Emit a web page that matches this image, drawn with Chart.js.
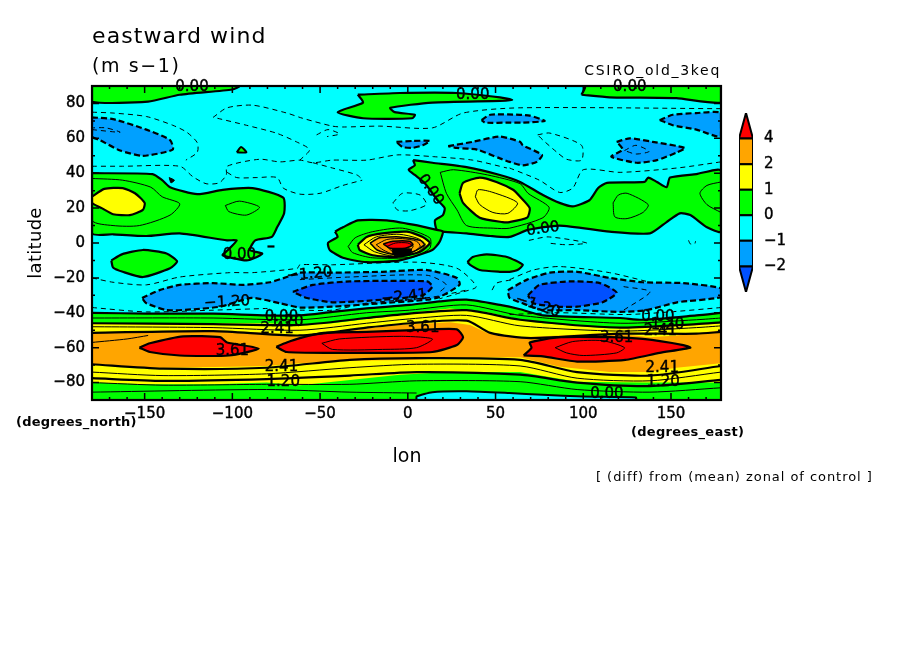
<!DOCTYPE html>
<html>
<head>
<meta charset="utf-8">
<title>eastward wind</title>
<script src="https://cdn.jsdelivr.net/npm/chart.js@4"></script>
<style>
  body { margin: 0; background: #fff; }
  #wrap { position: relative; width: 904px; height: 654px; }
  #mapChart { position: absolute; left: 0; top: 0; }
  #barChart { position: absolute; left: 725px; top: 100px; }
</style>
</head>
<body>
<div id="wrap">
  <canvas id="mapChart" width="904" height="654"></canvas>
  <canvas id="barChart" width="70" height="200"></canvas>
</div>
<script>
// axes
const lonTicks = [-150, -100, -50, 0, 50, 100, 150];
const latTicks = [-80, -60, -40, -20, 0, 20, 40, 60, 80];
const lonMinor = [-170, -160, -140, -130, -120, -110, -90, -80, -70, -60, -40, -30, -20, -10, 10, 20, 30, 40, 60, 70, 80, 90, 110, 120, 130, 140, 160, 170];
const latMinor = [-70, -50, -30, -10, 10, 30, 50, 70];

// colour bar
const barLevels = ["-2", "-1", "0", "1", "2", "4"];
const barColors = ["#0050ff", "#00a0ff", "#00ffff", "#00ff00", "#ffff00", "#ffa500", "#ff0000"];

// field background and the regions, all [lon, lat]
const wholeField = [[-180, 90], [178.5, 90], [178.5, -90], [-180, -90]];

const greenNorthWest = [[-180, 90], [-96, 90], [-100, 88], [-130, 85], [-148, 81], [-180, 81]];
const greenNorthMid = [[-28.5, 85], [-4.5, 86], [28, 86], [52.5, 83.5], [59.5, 82], [52.5, 81.5], [14, 80.5], [-10, 77.5], [-7.5, 75], [4, 73.5], [2.5, 71.5], [-25.5, 71.5], [-40, 75], [-25.5, 80.5]];
const greenNorthEast = [[99, 85], [101, 89], [101, 90], [178.5, 90], [178.5, 80.5], [153, 83], [115, 83.5]];
const greenPacific = [[-180, 40], [-145.5, 39.5], [-140, 36], [-135.5, 32], [-120, 28], [-105.5, 30.5], [-88.5, 31.5], [-71, 26], [-70.5, 17], [-74.5, 9], [-77.5, 3.5], [-87, 1.5], [-90, -4], [-83, -6], [-86, -8], [-92, -10], [-105.5, -7], [-102.5, -4], [-97.5, 1.5], [-103, 1.5], [-130, 5.5], [-149, 4], [-168, 5], [-180, 5.5]];
const greenAsia = [[3, 47.5], [14, 46], [33.5, 43.5], [52.5, 39], [64, 35], [77, 27.5], [86.5, 23], [94, 21], [103.5, 24.5], [108.5, 31.5], [113.5, 34.5], [135, 35], [137, 37.5], [142, 35], [147.5, 32], [149.5, 37.5], [164.5, 39.5], [178.5, 41.5], [178.5, 6.5], [170.5, 9], [161, 16], [155, 17], [147.5, 12], [138, 5.5], [115, 6.5], [86.5, 10], [68.5, 7.5], [58, 3.5], [47, 4], [33.5, 5.5], [20, 6.5], [16.5, 7.5], [15.5, 13], [20, 16], [21, 20], [17, 24.5], [9.5, 34.5], [4, 39], [0.5, 42], [4, 44.5]];
const greenSmallWest = [[-169, -10], [-163, -6.5], [-151, -4], [-137.5, -6], [-131.5, -10.5], [-135.5, -14.5], [-151, -19.5], [-162.5, -16.5], [-168, -14]];
const greenAfrica = [[-41.5, 6.5], [-37, 9], [-28.5, 13], [-12, 13], [3, 10.5], [16.5, 7.5], [20, 6.5], [18, 0.5], [14, -4], [-4.5, -10], [-23.5, -11], [-37, -8.5], [-44.5, -4], [-45.5, 0], [-40, 3.5]];
const greenSmallEast = [[34, -11], [37, -8], [45, -6.5], [56.5, -8], [65.5, -12.5], [62.5, -15.5], [58, -16.5], [52.5, -16.5], [41, -15.5], [35.5, -12.5]];
const greenSpeck = [[-97.5, 52], [-95, 55], [-92, 52]];
const blackSpeck = [[-136, 37.5], [-133, 36], [-135, 34.5]];

const yellowWest = [[-180, 26.5], [-173, 31], [-162.5, 31.5], [-155.5, 28.5], [-150, 23], [-151, 19], [-158.5, 16], [-168, 16.5], [-174.5, 20], [-180, 23]];
const yellowMid = [[29.5, 28.5], [31.5, 34.5], [41, 37.5], [50.5, 35], [60, 30.5], [64, 26.5], [69.5, 20], [68, 14.5], [58, 12], [54, 12], [41, 14.5], [31.5, 23]];
const yellowAfrica = [[-28.5, -1], [-23.5, 3.5], [-14.5, 5.5], [-0.5, 6.5], [8.5, 3.5], [12.5, 0], [7, -5], [-6.5, -8], [-20, -7], [-27.5, -4]];
const orangeAfrica = [[-21.5, 0], [-16, 3], [-4.5, 3.5], [7, 1.5], [9.5, -1], [3, -5], [-8.5, -6.5], [-17.5, -4]];
const redAfrica = [[-14, -0.5], [-8.5, 1], [1, 1], [3, -1], [-1.5, -3], [-10, -3]];
const coreAfrica = [[-9, -3.5], [2, -3.5], [1, -7], [-8, -7]];

const blueNorthWest = [[-180, 72], [-168, 71], [-149, 65], [-135.5, 59], [-134, 53.5], [-151, 50], [-164, 53], [-175.5, 59], [-180, 61]];
const blueNorthEast = [[143.5, 70.5], [151, 73.5], [164.5, 74.5], [178.5, 74.5], [178.5, 61], [164.5, 65], [151, 67.5]];
const blueEurope = [[-6.5, 58], [3, 58.5], [12.5, 58.5], [8.5, 56], [2.5, 54.5], [-3, 55]];
const blueRussia = [[23, 55.5], [37, 58], [52.5, 61], [64, 58], [65.5, 56], [76.5, 50.5], [73.5, 46.5], [65.5, 44.5], [58, 46.5], [52.5, 48.5], [39.5, 53.5], [28, 54.5]];
const blueArctic = [[42, 70.5], [47, 73.5], [64, 73.5], [69.5, 73], [78, 70], [65.5, 69], [58, 69], [44, 69]];
const blueJapan = [[119, 58], [126.5, 60], [139.5, 58], [158, 54.5], [153.5, 52], [142, 47.5], [130.5, 46], [116, 49.5], [122.5, 53.5]];
const blueSouthWest = [[-151.5, -31.5], [-141.5, -27], [-130, -24], [-111, -23], [-94, -24], [-78.5, -22.5], [-69, -19.5], [-61.5, -17], [-43, -17], [-14.5, -16.5], [11, -15.5], [28, -20], [29.5, -24], [18, -31], [11, -32.5], [-14.5, -34.5], [-43, -36.5], [-61.5, -37], [-73, -34.5], [-89, -31.5], [-107, -36.5], [-122.5, -38], [-137.5, -38.5], [-149, -34.5]];
const blueSouthEast = [[57, -27], [68, -21], [81, -17], [96.5, -16.5], [115, -20], [134, -22.5], [157, -23], [178.5, -26], [178.5, -31], [153.5, -34], [136, -38.5], [121, -39.5], [96.5, -38.5], [77, -38.5], [68, -35.5], [58, -31.5]];
const deepSouthWest = [[-65.5, -28], [-54, -24], [-33, -22], [11, -22], [14, -25], [8.5, -30], [-14.5, -32.5], [-43, -34], [-57.5, -31.5]];
const deepSouthEast = [[68.5, -30], [75, -24], [92.5, -22], [109.5, -23], [119, -28.5], [111, -34], [96.5, -36.5], [85, -36.5], [71.5, -34.5]];

// southern jet, edges of the colour bands from west to east
const southZeroTop = [[-180, -40], [-149, -40.5], [-111, -40.5], [-80.5, -41.5], [-61.5, -41.5], [-43, -39.5], [-23.5, -37.5], [1, -35.5], [18, -33.5], [33.5, -32.5], [52.5, -35.5], [64, -38], [77, -41.5], [121, -43], [134, -44], [164.5, -41.5], [178.5, -40]];
const southOneTop = [[-180, -46], [-149, -46], [-111, -46], [-80.5, -46], [-61.5, -47], [-43, -46], [-14.5, -42.5], [5, -39.5], [24, -37.5], [45, -39.5], [64, -44], [77, -46], [115, -49], [138, -48], [178.5, -46]];
const southTwoTop = [[-180, -51.5], [-149, -50.5], [-111, -50], [-80.5, -51.5], [-61.5, -53], [-33, -50], [-4.5, -47], [24, -45.5], [35.5, -47], [45, -51.5], [64, -54], [86.5, -53], [115, -51.5], [138, -54], [153, -53], [178.5, -50]];
const southTwoBottom = [[-180, -69.5], [-160, -71], [-139.5, -71.5], [-101.5, -71], [-80.5, -70.5], [-61.5, -69], [-33, -67.5], [5, -67], [24, -65.5], [64, -65.5], [86.5, -71], [115, -74], [138, -74], [153, -71.5], [178.5, -69]];
const southOneBottom = [[-180, -80], [-149, -81], [-111, -81], [-80.5, -80], [-61.5, -81.5], [-33, -78.5], [-4.5, -75.5], [24, -74], [64, -74], [96.5, -79.5], [134, -80], [153, -80], [178.5, -80]];
const southFloor = [[-180, -90], [178.5, -90]];
const cyanAntarctic = [[5, -90], [5, -88], [14, -85.5], [33.5, -85], [58, -86], [77, -87], [100, -88], [130, -88.5], [130, -90]];

const redJetWest = [[-153, -60], [-147, -57.5], [-128, -53.5], [-107, -54], [-103, -57], [-85, -60.5], [-102, -64.5], [-130, -64.5], [-147, -62.5]];
const redJetMid = [[-75, -59.5], [-69, -57], [-61.5, -54.5], [-48, -51.5], [-23.5, -51], [14, -49.5], [28, -49.5], [31.5, -54], [28, -58.5], [14, -62.5], [-14.5, -63], [-43, -63], [-69, -62.5]];
const redJetEast = [[66, -64.5], [70.5, -60], [69.5, -57], [86.5, -54], [115, -54], [134, -55], [157, -58.5], [161, -60], [143.5, -63], [124, -67], [96.5, -68], [77, -65]];

// solid contours
const thinPacificOuter = [[-180, 37], [-162.5, 36], [-146.5, 32], [-140, 26.5], [-130, 22.5], [-135.5, 16], [-153, 10], [-168, 10], [-180, 13]];
const thinPacificSmall = [[-104, 21.5], [-96, 24], [-84.5, 20.5], [-92, 16], [-102, 18]];
const thinAsiaOuter = [[18.5, 40.5], [26, 42], [45.5, 39], [64, 34], [68.5, 28.5], [80.5, 20.5], [77, 14.5], [58, 8.5], [49, 8.5], [33.5, 10], [28, 19], [22, 28.5]];
const thinAsiaInner = [[38.5, 26.5], [40, 30.5], [48.5, 29], [62.5, 23], [57, 17], [48.5, 17.5], [41, 22]];
const thinAsiaEast = [[117, 23], [120, 27.5], [125, 28.5], [137, 22], [134, 17.5], [125, 14], [118, 15]];
const thinDateLine = [[178.5, 35], [170.5, 33], [166.5, 28.5], [170.5, 22], [178.5, 17.5]];
const thinAfricaOuter = [[-34, -2], [-30, 3], [-20, 6.5], [-3, 8.5], [12.5, 3], [12.5, -3], [3, -8], [-20, -8.5], [-31.5, -5.5]];
const thinAfricaA = [[-25, -1], [-18, 3.5], [-5, 5], [6, 2.5], [10, -1], [4, -6], [-8, -7.5], [-19, -5]];
const thinAfricaB = [[-18, -1], [-12, 2], [-3, 2.5], [5, 1], [7, -2], [1, -6], [-8, -6.5], [-14, -4]];
const thinAfricaC = [[-12, -2], [-7, 0], [0, 0], [3, -2], [0, -5], [-7, -6]];
const thinJetMid = [[-49, -57.5], [-39, -55], [-4.5, -53.5], [14, -55], [5, -60], [-14.5, -61], [-43, -61]];
const thinJetEast = [[84, -60], [94, -56.5], [111, -56], [123.5, -60], [119, -63], [100, -64.5], [90.5, -63]];

const northPointSix = [[-180, -43], [-111, -43], [-61.5, -44], [-23.5, -40], [1, -38.5], [33.5, -35.5], [64, -41.5], [121, -46], [164.5, -44], [178.5, -43]];
const northOneTwo = [[-180, -46], [-111, -46.5], [-61.5, -47], [-23.5, -43], [1, -40.5], [33.5, -38.5], [64, -44], [121, -48.5], [164.5, -46.5], [178.5, -45.5]];
const northOneEight = [[-180, -48], [-111, -48.5], [-61.5, -50], [-23.5, -46], [1, -43.5], [33.5, -41.5], [64, -47.5], [121, -50.5], [164.5, -48.5], [178.5, -47.5]];
const northTwoFour = [[-180, -51.5], [-111, -50.5], [-61.5, -53], [-23.5, -48.5], [1, -46], [33.5, -44.5], [47, -51.5], [70, -54.5], [121, -52], [164.5, -52], [178.5, -51]];
const northThree = [[-180, -57], [-160, -55], [-148, -53]];
const southTwoFour = [[-180, -69.5], [-139.5, -72], [-80.5, -71.5], [-33, -67], [5, -66], [64, -67], [96.5, -74], [138, -76], [178.5, -70.5]];
const southOneEight = [[-180, -74], [-139.5, -76], [-80.5, -75], [-33, -71.5], [5, -69.5], [64, -70.5], [96.5, -77.5], [138, -79], [178.5, -74]];
const southOneTwo = [[-180, -77.5], [-139.5, -79], [-80.5, -78], [-33, -76], [5, -74], [64, -75.5], [96.5, -80], [138, -82], [178.5, -78.5]];
const southPointSix = [[-180, -80], [-139.5, -81.5], [-80.5, -81], [-33, -81], [5, -79], [64, -79.5], [96.5, -84], [138, -85.5], [178.5, -83]];
const southZeroLow = [[-180, -85.5], [-80.5, -84], [-33, -85.5], [5, -86]];
const shortBar = [[-80, -2], [-76, -2]];

// dashed contours
const dashA = [[-180, 75], [-168, 74.5], [-149, 72.5], [-134, 67.5], [-126, 63.5], [-120, 57.5], [-120, 52], [-126.5, 47.5]];
const dashB = [[-111, 72], [-103, 77.5], [-88.5, 79], [-69, 74.5], [-60, 71.5], [-43, 67], [-37, 66.5], [-16, 67], [14, 66], [31.5, 74.5], [64, 77.5], [178.5, 77]];
const dashC = [[-108.5, 71.5], [-92, 67.5], [-75, 63], [-63.5, 58], [-56, 53.5], [-61.5, 47.5]];
const dashD = [[-180, 44], [-162.5, 44], [-130, 44], [-122.5, 38], [-115, 34], [-107.5, 34.5], [-103.5, 39], [-103, 44], [-84.5, 48], [-73, 46.5], [-61.5, 47.5], [-54, 46], [-43, 47.5], [-23.5, 47.5], [-6, 50.5], [14.5, 49.5], [37, 47.5], [56.5, 43]];
const dashE = [[-103, 40.5], [-97.5, 37.5], [-86, 37.5], [-74.5, 37.5], [-71, 31.5], [-61.5, 28], [-50, 28.5], [-37, 33], [-26, 36]];
const dashF = [[-8.5, 23], [-3, 28.5], [7, 27.5], [10.5, 22], [1, 18.5], [-6, 19], [-8.5, 23]];
const dashG = [[-52, 62], [-45.5, 65], [-39, 62.5], [-46, 61]];
const dashH = [[-54, 46], [-43, 43], [-29, 39], [-25.5, 36]];
const dashI = [[74, 62], [81, 63], [99, 56], [99, 47.5], [90.5, 48], [85, 52], [77, 59], [74, 62]];
const dashJ = [[178.5, 46.5], [153.5, 43], [121, 40.5], [100, 42], [94, 31.5], [86.5, 29], [75, 36], [58, 43]];
const dashK = [[69, 1.5], [80, 3.5], [102, 0], [90.5, -1], [79.5, 0]];
const dashL = [[-180, 65], [-164, 63.5], [-172, 66], [-180, 66]];
const dashM = [[123.5, 53], [130, 56], [137.5, 52.5], [130, 51], [123.5, 53]];
const dashN = [[-180, -20], [-168, -22.5], [-149, -24], [-130, -19.5], [-101.5, -17], [-88.5, -17], [-63, -14.5], [-61.5, -12.5], [-43, -12.5], [5, -11], [28, -14.5], [39, -25], [31.5, -28], [18, -32]];
const dashO = [[-61.5, -21], [-33, -19.5], [11, -18.5], [22, -24], [17, -29]];
const dashP = [[-61.5, -38.5], [-43, -38.5], [-23.5, -34.5], [14, -31], [33.5, -27]];
const dashQ = [[-180, -37], [-149, -39.5], [-111, -38.5], [-80, -37.5]];
const dashR = [[58, -21], [71.5, -15.5], [86.5, -13.5], [115, -17], [138, -22.5]];
const dashS = [[48, -27], [50.5, -23], [60, -21]];
const dashT = [[58, -41], [86.5, -40], [124.5, -41], [149.5, -39.5], [178.5, -37]];
const dashU = [[123, -25], [138, -28], [123, -38.5]];
const dashV = [[160, 1.5], [161, -0.5], [163.5, -0.5], [164, 1]];

// contour labels
const labelTexts = ["0.00", "0.00", "0.00", "0.00", "0.00", "0.00", "0.00", "0.00", "0.00", "\u22121.20", "\u22121.20", "\u22121.20", "\u22122.41", "3.61", "3.61", "3.61", "2.41", "2.41", "2.41", "2.41", "1.20", "1.20", "1.20", "1.20"];
const labelLons = [-123, 37, 126.5, 113.5, -96, 77, 13, -72, 142.5, -56, -103, 74, -2, -100, 8.5, 119, -74.5, 144, -72, 145, -69, 148, -71, 145.5];
const labelLats = [89.5, 85, 89.5, -86.5, -7, 8, 30.5, -42.5, -42.5, -18, -34, -36, -31, -62, -49, -54.5, -49.5, -50.5, -71, -71.5, -45.5, -47, -80, -79.5];
const labelTilts = [0, 0, 0, 0, 0, -8, 55, 0, 0, -5, -3, 18, -6, 0, 0, 0, 0, 0, 0, 0, 0, 0, 0, 0];

const FONT = "'DejaVu Sans'";
const CYAN = barColors[2], GREEN = barColors[3], YELLOW = barColors[4], ORANGE = barColors[5], RED = barColors[6];
const BLUE = barColors[1], DEEP = barColors[0];

function toPoints(pairs) {
  return pairs.map(p => ({ x: p[0], y: p[1] }));
}

function closeRing(pairs) {
  return pairs.concat([pairs[0]]);
}

// closed filled region, outlined unless width is 0
function region(pairs, color, width, dash) {
  return {
    data: toPoints(closeRing(pairs)),
    showLine: true,
    fill: "shape",
    backgroundColor: color,
    borderColor: "#000",
    borderWidth: width,
    borderDash: dash || [],
    pointRadius: 0,
    tension: 0.2,
  };
}

function band(top, bottom, color) {
  const ds = region(top.concat(bottom.slice().reverse()), color, 0);
  ds.tension = 0;
  return ds;
}

function line(pairs, width, dash) {
  return {
    data: toPoints(pairs),
    showLine: true,
    fill: false,
    borderColor: "#000",
    borderWidth: width,
    borderDash: dash || [],
    pointRadius: 0,
    tension: 0.25,
  };
}

function ring(pairs, width) {
  return line(closeRing(pairs), width);
}

const THICK_DASH = [6, 3];
const THIN_DASH = [5, 4];

// listed bottom layer first
const layers = [
  region(wholeField, CYAN, 0),
  band(southZeroTop, southFloor, GREEN),
  band(southOneTop, southOneBottom, YELLOW),
  band(southTwoTop, southTwoBottom, ORANGE),
  region(cyanAntarctic, CYAN, 2),
  region(greenNorthWest, GREEN, 2.2),
  region(greenNorthMid, GREEN, 2.2),
  region(greenNorthEast, GREEN, 2.2),
  region(greenPacific, GREEN, 2.2),
  region(greenAsia, GREEN, 2.2),
  region(greenSmallWest, GREEN, 2.2),
  region(greenAfrica, GREEN, 2.2),
  region(greenSmallEast, GREEN, 2.2),
  region(greenSpeck, GREEN, 2),
  region(blackSpeck, "#000", 1),
  region(yellowWest, YELLOW, 2.2),
  region(yellowMid, YELLOW, 2.2),
  region(yellowAfrica, YELLOW, 2.2),
  region(orangeAfrica, ORANGE, 1.5),
  region(redAfrica, RED, 1.5),
  region(coreAfrica, "#000", 1),
  region(blueNorthWest, BLUE, 2.2, THICK_DASH),
  region(blueNorthEast, BLUE, 2.2, THICK_DASH),
  region(blueEurope, BLUE, 2.2, THICK_DASH),
  region(blueRussia, BLUE, 2.2, THICK_DASH),
  region(blueArctic, BLUE, 2.2, THICK_DASH),
  region(blueJapan, BLUE, 2.2, THICK_DASH),
  region(blueSouthWest, BLUE, 2.2, THICK_DASH),
  region(blueSouthEast, BLUE, 2.2, THICK_DASH),
  region(deepSouthWest, DEEP, 2.2, THICK_DASH),
  region(deepSouthEast, DEEP, 2.2, THICK_DASH),
  region(redJetWest, RED, 2.2),
  region(redJetMid, RED, 2.2),
  region(redJetEast, RED, 2.2),
  ring(thinPacificOuter, 1),
  ring(thinPacificSmall, 1),
  ring(thinAsiaOuter, 1),
  ring(thinAsiaInner, 1),
  ring(thinAsiaEast, 1),
  line(thinDateLine, 1),
  ring(thinAfricaOuter, 1),
  ring(thinAfricaA, 1),
  ring(thinAfricaB, 1),
  ring(thinAfricaC, 1),
  ring(thinJetMid, 1),
  ring(thinJetEast, 1),
  line(southZeroTop, 2.2),
  line(northPointSix, 1),
  line(northOneTwo, 2.2),
  line(northOneEight, 1),
  line(northTwoFour, 2.2),
  line(northThree, 1),
  line(southTwoFour, 2.2),
  line(southOneEight, 1),
  line(southOneTwo, 2.2),
  line(southPointSix, 1),
  line(southZeroLow, 1),
  line(shortBar, 2.2),
];
[dashA, dashB, dashC, dashD, dashE, dashF, dashG, dashH, dashI, dashJ, dashK, dashL, dashM, dashN, dashO, dashP, dashQ, dashR, dashS, dashT, dashU, dashV].forEach(d => {
  layers.push(line(d, 1, THIN_DASH));
});

// Chart.js paints the first dataset last, so flip the list
const mapDatasets = layers.slice().reverse();

function signedLabel(value) {
  return String(value).replace("-", "\u2212");
}

function putText(ctx, text, x, y, size, opts) {
  const o = opts || {};
  ctx.save();
  ctx.translate(x, y);
  if (o.angle) ctx.rotate(o.angle * Math.PI / 180);
  ctx.font = (o.weight || "normal") + " " + size + "px " + FONT;
  ctx.textAlign = o.align || "left";
  ctx.textBaseline = "middle";
  ctx.letterSpacing = (o.spacing || 0) + "px";
  ctx.fillStyle = "#000";
  ctx.fillText(text, 0, 0);
  if (o.heavy) {
    ctx.strokeStyle = "#000";
    ctx.lineWidth = o.heavy;
    ctx.strokeText(text, 0, 0);
  }
  ctx.restore();
}

const mapFrame = {
  id: "mapFrame",
  afterDraw(chart) {
    const ctx = chart.ctx;
    const { left, right, top, bottom } = chart.chartArea;
    const xs = chart.scales.x;
    const ys = chart.scales.y;

    // contour labels
    labelTexts.forEach((t, i) => {
      putText(ctx, t, xs.getPixelForValue(labelLons[i]), ys.getPixelForValue(labelLats[i]), 15, { align: "center", angle: labelTilts[i], heavy: 0.4 });
    });

    // inward ticks on all four sides
    ctx.strokeStyle = "#000";
    ctx.lineWidth = 1.5;
    ctx.beginPath();
    function lonMark(v, len) {
      const x = xs.getPixelForValue(v);
      ctx.moveTo(x, bottom); ctx.lineTo(x, bottom - len);
      ctx.moveTo(x, top); ctx.lineTo(x, top + len);
    }
    function latMark(v, len) {
      const y = ys.getPixelForValue(v);
      ctx.moveTo(left, y); ctx.lineTo(left + len, y);
      ctx.moveTo(right, y); ctx.lineTo(right - len, y);
    }
    lonTicks.forEach(v => lonMark(v, 7));
    lonMinor.forEach(v => lonMark(v, 3));
    latTicks.forEach(v => latMark(v, 7));
    latMinor.forEach(v => latMark(v, 3));
    ctx.stroke();

    ctx.lineWidth = 2.2;
    ctx.strokeRect(left, top, right - left, bottom - top);

    putText(ctx, "eastward wind", 92, 37, 22, { spacing: 1.1 });
    putText(ctx, "(m s\u22121)", 92, 67, 19, { spacing: 1.6 });
    putText(ctx, "CSIRO_old_3keq", 721, 71, 14, { align: "right", spacing: 1.7 });
    putText(ctx, "latitude", 36, 243, 18, { align: "center", angle: -90, spacing: 0.3 });
    putText(ctx, "lon", 407, 457, 19, { align: "center" });
    putText(ctx, "(degrees_north)", 16, 423, 13, { weight: "bold", spacing: 0.2 });
    putText(ctx, "(degrees_east)", 631, 433, 13, { weight: "bold", spacing: 0.3 });
    putText(ctx, "[ (diff) from (mean) zonal of control ]", 596, 478, 13, { spacing: 0.95 });
  },
};

const tickFont = { family: FONT, size: 15 };

new Chart(document.getElementById("mapChart"), {
  type: "scatter",
  data: { datasets: mapDatasets },
  plugins: [mapFrame],
  options: {
    responsive: false,
    animation: false,
    layout: { padding: { left: 0, top: 86, right: 183, bottom: 0 } },
    plugins: { legend: { display: false }, tooltip: { enabled: false } },
    events: [],
    scales: {
      x: {
        type: "linear",
        min: -180,
        max: 178.5,
        afterFit: s => { s.height = 254; },
        afterBuildTicks: s => { s.ticks = lonTicks.map(v => ({ value: v })); },
        grid: { display: false, drawTicks: false },
        border: { display: false },
        ticks: { color: "#000", font: tickFont, padding: 5, maxRotation: 0, autoSkip: false, textStrokeColor: "#000", textStrokeWidth: 0.4, callback: signedLabel },
      },
      y: {
        type: "linear",
        min: -90,
        max: 90,
        afterFit: s => { s.width = 92; },
        afterBuildTicks: s => { s.ticks = latTicks.map(v => ({ value: v })); },
        grid: { display: false, drawTicks: false },
        border: { display: false },
        ticks: { color: "#000", font: tickFont, padding: 7, autoSkip: false, textStrokeColor: "#000", textStrokeWidth: 0.4, callback: signedLabel },
      },
    },
  },
});

// colour bar: boxes sit between level positions 0..5, the end triangles beyond them
function barBox(i) {
  return [[0, i - 1], [1, i - 1], [1, i], [0, i]];
}
function barTip(i) {
  return i === 0 ? [[0, 0], [1, 0], [0.5, -1]] : [[0, 5], [1, 5], [0.5, 6]];
}

const barDatasets = barColors.map((c, i) => {
  const shape = (i === 0 || i === barColors.length - 1) ? barTip(i) : barBox(i);
  const ds = region(shape, c, 2);
  ds.tension = 0;
  return ds;
});

new Chart(document.getElementById("barChart"), {
  type: "scatter",
  data: { datasets: barDatasets },
  options: {
    responsive: false,
    animation: false,
    layout: { padding: { left: 14, top: 13, right: 0, bottom: 8 } },
    plugins: { legend: { display: false }, tooltip: { enabled: false } },
    events: [],
    scales: {
      x: { type: "linear", min: 0, max: 1, display: false, afterFit: s => { s.height = 0; } },
      y: {
        type: "linear",
        min: -1,
        max: 6,
        position: "right",
        afterFit: s => { s.width = 42; s.paddingTop = 0; s.paddingBottom = 0; },
        afterBuildTicks: s => { s.ticks = barLevels.map((v, i) => ({ value: i })); },
        grid: { display: false, drawTicks: false },
        border: { display: false },
        ticks: { color: "#000", font: tickFont, padding: 11, autoSkip: false, textStrokeColor: "#000", textStrokeWidth: 0.4, callback: (v, i) => signedLabel(barLevels[i]) },
      },
    },
  },
});
</script>
</body>
</html>
